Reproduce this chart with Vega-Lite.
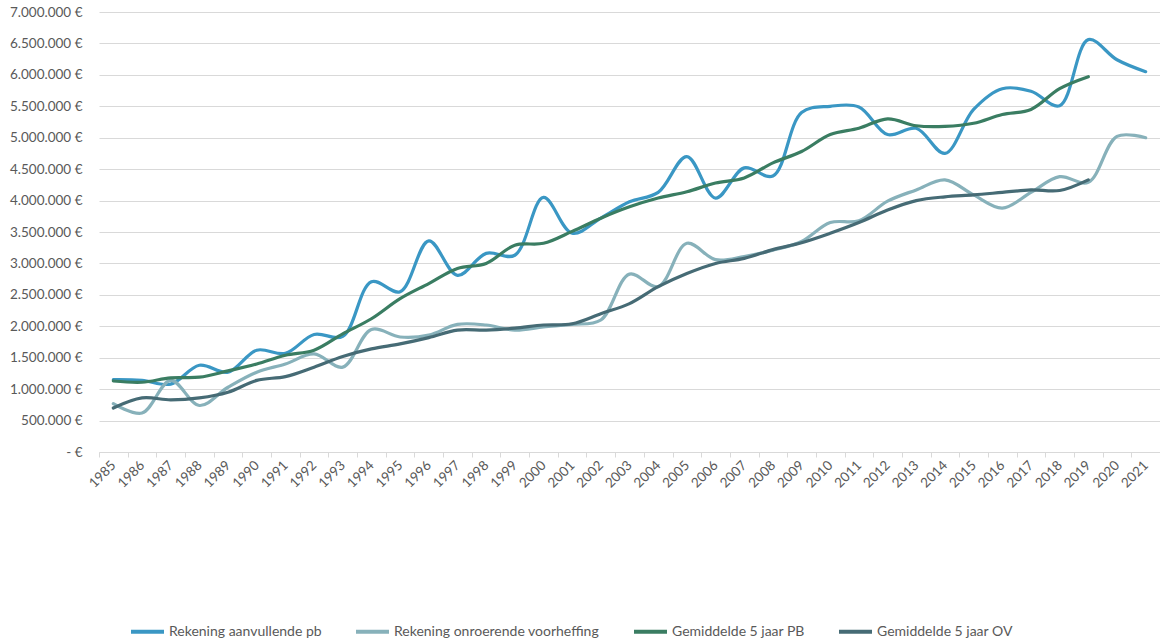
{
  "$schema": "https://vega.github.io/schema/vega-lite/v6.json",
  "width": 1061,
  "height": 440,
  "autosize": {"type": "none"},
  "padding": {"left": 99, "top": 12, "right": 0, "bottom": 191},
  "background": "white",
  "config": {
    "font": "Lato",
    "view": {"stroke": null},
    "axis": {"labelFont": "Lato", "labelColor": "#595959", "labelFontSize": 13.5}
  },
  "data": {
    "values": [
      {"jaar": "1985", "serie": "Rekening aanvullende pb", "waarde": 1150000},
      {"jaar": "1986", "serie": "Rekening aanvullende pb", "waarde": 1140000},
      {"jaar": "1987", "serie": "Rekening aanvullende pb", "waarde": 1080000},
      {"jaar": "1988", "serie": "Rekening aanvullende pb", "waarde": 1380000},
      {"jaar": "1989", "serie": "Rekening aanvullende pb", "waarde": 1270000},
      {"jaar": "1990", "serie": "Rekening aanvullende pb", "waarde": 1620000},
      {"jaar": "1991", "serie": "Rekening aanvullende pb", "waarde": 1570000},
      {"jaar": "1992", "serie": "Rekening aanvullende pb", "waarde": 1870000},
      {"jaar": "1993", "serie": "Rekening aanvullende pb", "waarde": 1840000},
      {"jaar": "1994", "serie": "Rekening aanvullende pb", "waarde": 2710000},
      {"jaar": "1995", "serie": "Rekening aanvullende pb", "waarde": 2550000},
      {"jaar": "1996", "serie": "Rekening aanvullende pb", "waarde": 3360000},
      {"jaar": "1997", "serie": "Rekening aanvullende pb", "waarde": 2810000},
      {"jaar": "1998", "serie": "Rekening aanvullende pb", "waarde": 3160000},
      {"jaar": "1999", "serie": "Rekening aanvullende pb", "waarde": 3130000},
      {"jaar": "2000", "serie": "Rekening aanvullende pb", "waarde": 4050000},
      {"jaar": "2001", "serie": "Rekening aanvullende pb", "waarde": 3480000},
      {"jaar": "2002", "serie": "Rekening aanvullende pb", "waarde": 3720000},
      {"jaar": "2003", "serie": "Rekening aanvullende pb", "waarde": 3980000},
      {"jaar": "2004", "serie": "Rekening aanvullende pb", "waarde": 4130000},
      {"jaar": "2005", "serie": "Rekening aanvullende pb", "waarde": 4700000},
      {"jaar": "2006", "serie": "Rekening aanvullende pb", "waarde": 4040000},
      {"jaar": "2007", "serie": "Rekening aanvullende pb", "waarde": 4520000},
      {"jaar": "2008", "serie": "Rekening aanvullende pb", "waarde": 4390000},
      {"jaar": "2009", "serie": "Rekening aanvullende pb", "waarde": 5400000},
      {"jaar": "2010", "serie": "Rekening aanvullende pb", "waarde": 5500000},
      {"jaar": "2011", "serie": "Rekening aanvullende pb", "waarde": 5490000},
      {"jaar": "2012", "serie": "Rekening aanvullende pb", "waarde": 5050000},
      {"jaar": "2013", "serie": "Rekening aanvullende pb", "waarde": 5150000},
      {"jaar": "2014", "serie": "Rekening aanvullende pb", "waarde": 4750000},
      {"jaar": "2015", "serie": "Rekening aanvullende pb", "waarde": 5450000},
      {"jaar": "2016", "serie": "Rekening aanvullende pb", "waarde": 5780000},
      {"jaar": "2017", "serie": "Rekening aanvullende pb", "waarde": 5740000},
      {"jaar": "2018", "serie": "Rekening aanvullende pb", "waarde": 5510000},
      {"jaar": "2019", "serie": "Rekening aanvullende pb", "waarde": 6560000},
      {"jaar": "2020", "serie": "Rekening aanvullende pb", "waarde": 6240000},
      {"jaar": "2021", "serie": "Rekening aanvullende pb", "waarde": 6050000},

      {"jaar": "1985", "serie": "Rekening onroerende voorheffing", "waarde": 770000},
      {"jaar": "1986", "serie": "Rekening onroerende voorheffing", "waarde": 620000},
      {"jaar": "1987", "serie": "Rekening onroerende voorheffing", "waarde": 1140000},
      {"jaar": "1988", "serie": "Rekening onroerende voorheffing", "waarde": 740000},
      {"jaar": "1989", "serie": "Rekening onroerende voorheffing", "waarde": 1030000},
      {"jaar": "1990", "serie": "Rekening onroerende voorheffing", "waarde": 1270000},
      {"jaar": "1991", "serie": "Rekening onroerende voorheffing", "waarde": 1400000},
      {"jaar": "1992", "serie": "Rekening onroerende voorheffing", "waarde": 1560000},
      {"jaar": "1993", "serie": "Rekening onroerende voorheffing", "waarde": 1350000},
      {"jaar": "1994", "serie": "Rekening onroerende voorheffing", "waarde": 1950000},
      {"jaar": "1995", "serie": "Rekening onroerende voorheffing", "waarde": 1830000},
      {"jaar": "1996", "serie": "Rekening onroerende voorheffing", "waarde": 1860000},
      {"jaar": "1997", "serie": "Rekening onroerende voorheffing", "waarde": 2030000},
      {"jaar": "1998", "serie": "Rekening onroerende voorheffing", "waarde": 2020000},
      {"jaar": "1999", "serie": "Rekening onroerende voorheffing", "waarde": 1940000},
      {"jaar": "2000", "serie": "Rekening onroerende voorheffing", "waarde": 1990000},
      {"jaar": "2001", "serie": "Rekening onroerende voorheffing", "waarde": 2030000},
      {"jaar": "2002", "serie": "Rekening onroerende voorheffing", "waarde": 2100000},
      {"jaar": "2003", "serie": "Rekening onroerende voorheffing", "waarde": 2830000},
      {"jaar": "2004", "serie": "Rekening onroerende voorheffing", "waarde": 2630000},
      {"jaar": "2005", "serie": "Rekening onroerende voorheffing", "waarde": 3320000},
      {"jaar": "2006", "serie": "Rekening onroerende voorheffing", "waarde": 3060000},
      {"jaar": "2007", "serie": "Rekening onroerende voorheffing", "waarde": 3110000},
      {"jaar": "2008", "serie": "Rekening onroerende voorheffing", "waarde": 3210000},
      {"jaar": "2009", "serie": "Rekening onroerende voorheffing", "waarde": 3350000},
      {"jaar": "2010", "serie": "Rekening onroerende voorheffing", "waarde": 3650000},
      {"jaar": "2011", "serie": "Rekening onroerende voorheffing", "waarde": 3680000},
      {"jaar": "2012", "serie": "Rekening onroerende voorheffing", "waarde": 3990000},
      {"jaar": "2013", "serie": "Rekening onroerende voorheffing", "waarde": 4170000},
      {"jaar": "2014", "serie": "Rekening onroerende voorheffing", "waarde": 4330000},
      {"jaar": "2015", "serie": "Rekening onroerende voorheffing", "waarde": 4090000},
      {"jaar": "2016", "serie": "Rekening onroerende voorheffing", "waarde": 3880000},
      {"jaar": "2017", "serie": "Rekening onroerende voorheffing", "waarde": 4130000},
      {"jaar": "2018", "serie": "Rekening onroerende voorheffing", "waarde": 4380000},
      {"jaar": "2019", "serie": "Rekening onroerende voorheffing", "waarde": 4290000},
      {"jaar": "2020", "serie": "Rekening onroerende voorheffing", "waarde": 5020000},
      {"jaar": "2021", "serie": "Rekening onroerende voorheffing", "waarde": 5000000},

      {"jaar": "1985", "serie": "Gemiddelde 5 jaar PB", "waarde": 1130000},
      {"jaar": "1986", "serie": "Gemiddelde 5 jaar PB", "waarde": 1110000},
      {"jaar": "1987", "serie": "Gemiddelde 5 jaar PB", "waarde": 1180000},
      {"jaar": "1988", "serie": "Gemiddelde 5 jaar PB", "waarde": 1190000},
      {"jaar": "1989", "serie": "Gemiddelde 5 jaar PB", "waarde": 1290000},
      {"jaar": "1990", "serie": "Gemiddelde 5 jaar PB", "waarde": 1400000},
      {"jaar": "1991", "serie": "Gemiddelde 5 jaar PB", "waarde": 1540000},
      {"jaar": "1992", "serie": "Gemiddelde 5 jaar PB", "waarde": 1620000},
      {"jaar": "1993", "serie": "Gemiddelde 5 jaar PB", "waarde": 1880000},
      {"jaar": "1994", "serie": "Gemiddelde 5 jaar PB", "waarde": 2120000},
      {"jaar": "1995", "serie": "Gemiddelde 5 jaar PB", "waarde": 2440000},
      {"jaar": "1996", "serie": "Gemiddelde 5 jaar PB", "waarde": 2680000},
      {"jaar": "1997", "serie": "Gemiddelde 5 jaar PB", "waarde": 2920000},
      {"jaar": "1998", "serie": "Gemiddelde 5 jaar PB", "waarde": 3000000},
      {"jaar": "1999", "serie": "Gemiddelde 5 jaar PB", "waarde": 3290000},
      {"jaar": "2000", "serie": "Gemiddelde 5 jaar PB", "waarde": 3320000},
      {"jaar": "2001", "serie": "Gemiddelde 5 jaar PB", "waarde": 3510000},
      {"jaar": "2002", "serie": "Gemiddelde 5 jaar PB", "waarde": 3720000},
      {"jaar": "2003", "serie": "Gemiddelde 5 jaar PB", "waarde": 3900000},
      {"jaar": "2004", "serie": "Gemiddelde 5 jaar PB", "waarde": 4040000},
      {"jaar": "2005", "serie": "Gemiddelde 5 jaar PB", "waarde": 4140000},
      {"jaar": "2006", "serie": "Gemiddelde 5 jaar PB", "waarde": 4280000},
      {"jaar": "2007", "serie": "Gemiddelde 5 jaar PB", "waarde": 4360000},
      {"jaar": "2008", "serie": "Gemiddelde 5 jaar PB", "waarde": 4600000},
      {"jaar": "2009", "serie": "Gemiddelde 5 jaar PB", "waarde": 4780000},
      {"jaar": "2010", "serie": "Gemiddelde 5 jaar PB", "waarde": 5050000},
      {"jaar": "2011", "serie": "Gemiddelde 5 jaar PB", "waarde": 5150000},
      {"jaar": "2012", "serie": "Gemiddelde 5 jaar PB", "waarde": 5300000},
      {"jaar": "2013", "serie": "Gemiddelde 5 jaar PB", "waarde": 5190000},
      {"jaar": "2014", "serie": "Gemiddelde 5 jaar PB", "waarde": 5180000},
      {"jaar": "2015", "serie": "Gemiddelde 5 jaar PB", "waarde": 5230000},
      {"jaar": "2016", "serie": "Gemiddelde 5 jaar PB", "waarde": 5370000},
      {"jaar": "2017", "serie": "Gemiddelde 5 jaar PB", "waarde": 5450000},
      {"jaar": "2018", "serie": "Gemiddelde 5 jaar PB", "waarde": 5780000},
      {"jaar": "2019", "serie": "Gemiddelde 5 jaar PB", "waarde": 5970000},

      {"jaar": "1985", "serie": "Gemiddelde 5 jaar OV", "waarde": 700000},
      {"jaar": "1986", "serie": "Gemiddelde 5 jaar OV", "waarde": 860000},
      {"jaar": "1987", "serie": "Gemiddelde 5 jaar OV", "waarde": 830000},
      {"jaar": "1988", "serie": "Gemiddelde 5 jaar OV", "waarde": 860000},
      {"jaar": "1989", "serie": "Gemiddelde 5 jaar OV", "waarde": 950000},
      {"jaar": "1990", "serie": "Gemiddelde 5 jaar OV", "waarde": 1140000},
      {"jaar": "1991", "serie": "Gemiddelde 5 jaar OV", "waarde": 1200000},
      {"jaar": "1992", "serie": "Gemiddelde 5 jaar OV", "waarde": 1350000},
      {"jaar": "1993", "serie": "Gemiddelde 5 jaar OV", "waarde": 1520000},
      {"jaar": "1994", "serie": "Gemiddelde 5 jaar OV", "waarde": 1640000},
      {"jaar": "1995", "serie": "Gemiddelde 5 jaar OV", "waarde": 1720000},
      {"jaar": "1996", "serie": "Gemiddelde 5 jaar OV", "waarde": 1820000},
      {"jaar": "1997", "serie": "Gemiddelde 5 jaar OV", "waarde": 1940000},
      {"jaar": "1998", "serie": "Gemiddelde 5 jaar OV", "waarde": 1940000},
      {"jaar": "1999", "serie": "Gemiddelde 5 jaar OV", "waarde": 1970000},
      {"jaar": "2000", "serie": "Gemiddelde 5 jaar OV", "waarde": 2020000},
      {"jaar": "2001", "serie": "Gemiddelde 5 jaar OV", "waarde": 2040000},
      {"jaar": "2002", "serie": "Gemiddelde 5 jaar OV", "waarde": 2200000},
      {"jaar": "2003", "serie": "Gemiddelde 5 jaar OV", "waarde": 2360000},
      {"jaar": "2004", "serie": "Gemiddelde 5 jaar OV", "waarde": 2630000},
      {"jaar": "2005", "serie": "Gemiddelde 5 jaar OV", "waarde": 2840000},
      {"jaar": "2006", "serie": "Gemiddelde 5 jaar OV", "waarde": 3000000},
      {"jaar": "2007", "serie": "Gemiddelde 5 jaar OV", "waarde": 3080000},
      {"jaar": "2008", "serie": "Gemiddelde 5 jaar OV", "waarde": 3220000},
      {"jaar": "2009", "serie": "Gemiddelde 5 jaar OV", "waarde": 3330000},
      {"jaar": "2010", "serie": "Gemiddelde 5 jaar OV", "waarde": 3480000},
      {"jaar": "2011", "serie": "Gemiddelde 5 jaar OV", "waarde": 3650000},
      {"jaar": "2012", "serie": "Gemiddelde 5 jaar OV", "waarde": 3850000},
      {"jaar": "2013", "serie": "Gemiddelde 5 jaar OV", "waarde": 4000000},
      {"jaar": "2014", "serie": "Gemiddelde 5 jaar OV", "waarde": 4060000},
      {"jaar": "2015", "serie": "Gemiddelde 5 jaar OV", "waarde": 4090000},
      {"jaar": "2016", "serie": "Gemiddelde 5 jaar OV", "waarde": 4130000},
      {"jaar": "2017", "serie": "Gemiddelde 5 jaar OV", "waarde": 4170000},
      {"jaar": "2018", "serie": "Gemiddelde 5 jaar OV", "waarde": 4160000},
      {"jaar": "2019", "serie": "Gemiddelde 5 jaar OV", "waarde": 4330000}
    ]
  },
  "mark": {"type": "line", "interpolate": "catmull-rom", "strokeWidth": 3.2, "strokeCap": "round"},
  "encoding": {
    "x": {
      "field": "jaar",
      "type": "ordinal",
      "bandPosition": 0.5,
      "scale": {"type": "band", "paddingInner": 0, "paddingOuter": 0},
      "axis": {
        "title": null,
        "tickBand": "extent",
        "labelAngle": -45,
        "labelAlign": "right",
        "labelBaseline": "middle",
        "labelPadding": 6,
        "tickSize": 5,
        "tickColor": "#D9D9D9",
        "domainColor": "#D9D9D9",
        "grid": false
      }
    },
    "y": {
      "field": "waarde",
      "type": "quantitative",
      "scale": {"domain": [0, 7000000]},
      "axis": {
        "title": null,
        "values": [0, 500000, 1000000, 1500000, 2000000, 2500000, 3000000, 3500000, 4000000, 4500000, 5000000, 5500000, 6000000, 6500000, 7000000],
        "labelExpr": "datum.value == 0 ? '- €' : replace(format(datum.value, ',.0f'), regexp(',', 'g'), '.') + ' €'",
        "domain": false,
        "ticks": false,
        "labelPadding": 17,
        "gridColor": "#D9D9D9",
        "gridWidth": 1
      }
    },
    "color": {
      "field": "serie",
      "type": "nominal",
      "scale": {
        "domain": ["Rekening aanvullende pb", "Rekening onroerende voorheffing", "Gemiddelde 5 jaar PB", "Gemiddelde 5 jaar OV"],
        "range": ["#3A97C4", "#87B1BA", "#3A7D62", "#466B75"]
      },
      "legend": {
        "title": null,
        "orient": "none",
        "direction": "horizontal",
        "legendX": 30,
        "legendY": 601,
        "symbolType": "stroke",
        "symbolSize": 1089,
        "symbolStrokeWidth": 4,
        "labelFont": "Lato",
        "labelFontSize": 14,
        "labelColor": "#595959",
        "labelOffset": 3,
        "columnPadding": 26,
        "labelLimit": 400
      }
    },
    "order": {"field": "jaar"}
  }
}
